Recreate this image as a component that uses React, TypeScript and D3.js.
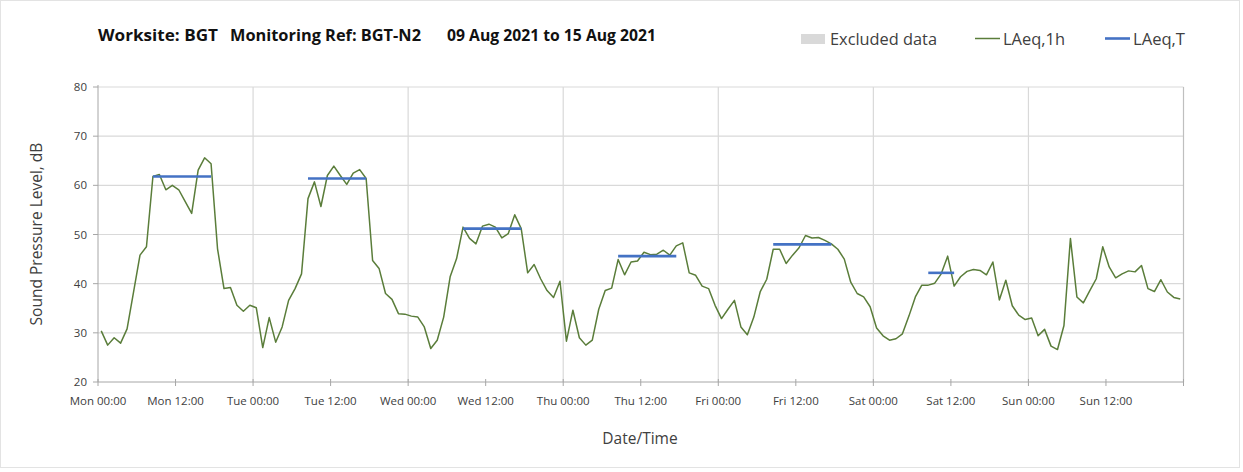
import React from "react";
import * as d3 from "d3";

// Hourly LAeq,1h values (dB), one array per day, hours 00..23
const mon = [30.4, 27.5, 29.0, 27.9, 30.8, 38.3, 45.8, 47.5, 61.8, 62.2, 59.1, 60.0, 59.1, 56.7, 54.3, 63.1, 65.6, 64.4, 47.1, 39.0, 39.2, 35.6, 34.4, 35.6];
const tue = [35.1, 27.0, 33.1, 28.1, 31.2, 36.6, 39.0, 42.0, 57.3, 60.7, 55.7, 62.0, 63.9, 62.0, 60.2, 62.5, 63.2, 61.4, 44.7, 43.1, 38.0, 36.8, 33.9, 33.8];
const wed = [33.4, 33.2, 31.2, 26.8, 28.5, 33.2, 41.4, 45.1, 51.5, 49.2, 48.1, 51.7, 52.1, 51.5, 49.3, 50.2, 54.0, 51.2, 42.2, 43.9, 41.0, 38.6, 37.2, 40.5];
const thu = [28.3, 34.6, 29.0, 27.5, 28.5, 34.8, 38.6, 39.1, 44.9, 41.8, 44.4, 44.6, 46.4, 45.9, 46.0, 46.8, 45.8, 47.7, 48.3, 42.2, 41.7, 39.5, 39.0, 35.6];
const fri = [32.9, 34.8, 36.6, 31.2, 29.6, 33.2, 38.4, 40.9, 47.0, 47.0, 44.1, 45.8, 47.3, 49.8, 49.3, 49.4, 48.8, 48.1, 47.0, 45.0, 40.3, 38.0, 37.3, 35.3];
const sat = [31.0, 29.4, 28.5, 28.8, 29.8, 33.4, 37.3, 39.7, 39.7, 40.1, 42.0, 45.6, 39.5, 41.4, 42.5, 42.9, 42.7, 41.8, 44.4, 36.7, 40.7, 35.5, 33.6, 32.7];
const sun = [33.0, 29.4, 30.7, 27.3, 26.6, 31.5, 49.2, 37.3, 36.1, 38.6, 41.0, 47.5, 43.4, 41.2, 42.0, 42.6, 42.4, 43.7, 39.0, 38.4, 40.8, 38.3, 37.2, 36.9];

// LAeq,T period values: day index, start hour, end hour, level
const periodDay = [0, 1, 2, 3, 4, 5];
const periodStart = [8, 8, 8, 8, 8, 8];
const periodEnd = [17, 17, 17, 17, 17, 12];
const periodValue = [61.8, 61.4, 51.2, 45.6, 48.0, 42.2];

const dayNames = ["Mon", "Tue", "Wed", "Thu", "Fri", "Sat", "Sun"];
const yTicks = [20, 30, 40, 50, 60, 70, 80];

const W = 1243;
const H = 472;
const left = 98;
const right = 1183.5;
const top = 87;
const bottom = 382;

const FONT = "'Open Sans', 'Noto Sans', sans-serif";

export default function App() {
  const days = [mon, tue, wed, thu, fri, sat, sun];
  const series = days.flatMap((d, di) => d.map((v, h) => ({ t: di * 24 + h + 0.5, v })));

  const x = d3.scaleLinear().domain([0, 168]).range([left, right]);
  const y = d3.scaleLinear().domain([20, 80]).range([bottom, top]);

  const line = d3
    .line<{ t: number; v: number }>()
    .x((d) => x(d.t))
    .y((d) => y(d.v));

  const xTicks = d3.range(0, 168, 12);
  const dayGrid = d3.range(24, 169, 24);

  return (
    <svg
      width={W}
      height={H}
      style={{ position: "absolute", left: 0, top: 0, background: "#fff" }}
      fontFamily={FONT}
    >
      <rect x={0.5} y={0.5} width={W - 4} height={H - 5} fill="#fff" stroke="#e3e3e3" />

      {/* horizontal grid */}
      {yTicks.slice(1).map((t) => (
        <line key={"hg" + t} x1={left} x2={right} y1={y(t)} y2={y(t)} stroke="#d9d9d9" strokeWidth={1.2} />
      ))}
      {/* vertical grid */}
      {dayGrid.map((t) => (
        <line key={"vg" + t} x1={x(t)} x2={x(t)} y1={top} y2={bottom} stroke={t === 168 ? "#bfbfbf" : "#d9d9d9"} strokeWidth={1.2} />
      ))}

      {/* axes */}
      <line x1={left} x2={left} y1={top - 2} y2={bottom} stroke="#a6a6a6" strokeWidth={1} />
      <line x1={left} x2={right} y1={bottom} y2={bottom} stroke="#a6a6a6" strokeWidth={1} />
      {yTicks.map((t) => (
        <g key={"yt" + t}>
          <line x1={left - 5} x2={left} y1={y(t)} y2={y(t)} stroke="#a6a6a6" />
          <text x={left - 11} y={y(t)} dy="0.35em" textAnchor="end" fontSize={11.5} fill="#404040">
            {t}
          </text>
        </g>
      ))}
      {d3.range(0, 169, 12).map((t) => (
        <line key={"xt" + t} x1={x(t)} x2={x(t)} y1={bottom - 3} y2={bottom + 4} stroke="#a6a6a6" />
      ))}
      {xTicks.map((t) => (
        <text key={"xl" + t} x={x(t)} y={405} textAnchor="middle" fontSize={11.5} fill="#404040">
          {`${dayNames[Math.floor(t / 24)]} ${t % 24 === 0 ? "00" : "12"}:00`}
        </text>
      ))}

      {/* axis titles */}
      <text x={640} y={444} textAnchor="middle" fontSize={15.5} fill="#404040">
        Date/Time
      </text>
      <text transform="translate(42,234) rotate(-90)" textAnchor="middle" fontSize={15.5} fill="#404040">
        Sound Pressure Level, dB
      </text>

      {/* LAeq,1h line */}
      <path d={line(series) || ""} fill="none" stroke="#5a7d3a" strokeWidth={1.5} strokeLinejoin="round" />

      {/* LAeq,T periods */}
      {periodDay.map((d, i) => (
        <line
          key={"p" + i}
          x1={x(d * 24 + periodStart[i] + 0.5)}
          x2={x(d * 24 + periodEnd[i] + 0.5)}
          y1={y(periodValue[i])}
          y2={y(periodValue[i])}
          stroke="#4472c4"
          strokeWidth={2.6}
        />
      ))}

      {/* title */}
      <g fontWeight="bold" fontSize={15.5} fill="#111">
        <text x={98} y={41} textLength={120} lengthAdjust="spacingAndGlyphs">Worksite: BGT</text>
        <text x={230} y={41} textLength={191} lengthAdjust="spacingAndGlyphs">Monitoring Ref: BGT-N2</text>
        <text x={447} y={41} textLength={209} lengthAdjust="spacingAndGlyphs">09 Aug 2021 to 15 Aug 2021</text>
      </g>

      {/* legend */}
      <rect x={801} y={34} width={24} height={10} fill="#d9d9d9" />
      <text x={830} y={45} fontSize={16} fill="#404040" textLength={107} lengthAdjust="spacingAndGlyphs">Excluded data</text>
      <line x1={975} x2={1000} y1={38.5} y2={38.5} stroke="#5a7d3a" strokeWidth={1.5} />
      <text x={1003} y={45} fontSize={16} fill="#404040" textLength={62} lengthAdjust="spacingAndGlyphs">LAeq,1h</text>
      <line x1={1105} x2={1130} y1={38.5} y2={38.5} stroke="#4472c4" strokeWidth={2.6} />
      <text x={1133} y={45} fontSize={16} fill="#404040" textLength={52} lengthAdjust="spacingAndGlyphs">LAeq,T</text>
    </svg>
  );
}
